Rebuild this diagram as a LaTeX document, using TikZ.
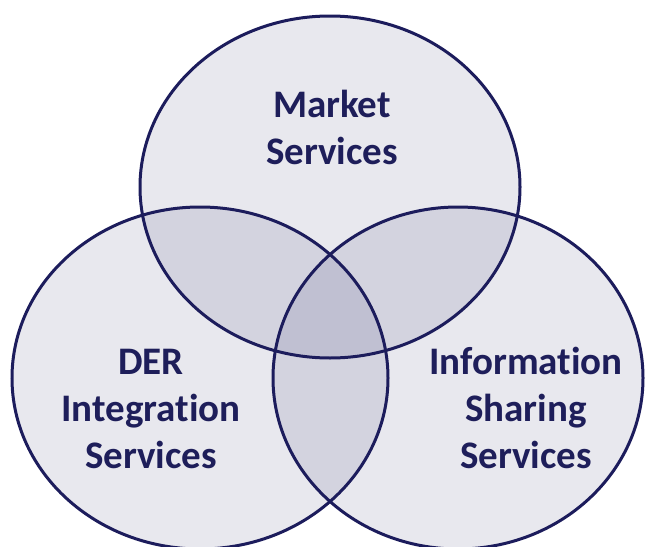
\documentclass[tikz,border=0pt]{standalone}
\usepackage{fontspec}
\setmainfont[Ligatures=NoCommon]{Carlito}
\definecolor{navyline}{RGB}{28,28,92}
\definecolor{navytext}{RGB}{30,30,90}
\definecolor{tint}{RGB}{31,31,96}
\tikzset{
  venn/.style={fill=tint, fill opacity=0.103},
  vennline/.style={draw=navyline, line width=3pt},
  lbl/.style={font=\fontsize{39}{47}\selectfont\bfseries, text=navytext, align=center, inner sep=0pt, anchor=base}
}
\begin{document}
\begin{tikzpicture}[x=1pt,y=-1pt]
\useasboundingbox (0,0) rectangle (645,546);
\fill[white] (0,0) rectangle (645,546);
% fills
\fill[venn] (330,187) ellipse [x radius=190, y radius=171];
\fill[venn] (200,378) ellipse [x radius=188, y radius=171];
\fill[venn] (458,378) ellipse [x radius=185, y radius=171];
% outlines
\draw[vennline] (330,187) ellipse [x radius=190, y radius=171];
\draw[vennline] (200,378) ellipse [x radius=188, y radius=171];
\draw[vennline] (458,378) ellipse [x radius=185, y radius=171];
% labels (anchor = baseline of last line)
\node[lbl] (market) at (332,164) {Market\\Services};
\node[lbl] (der) at (151,468) {DER\\Integration\\Services};
\node[lbl] (info) at (526,468) {Information\\Sharing\\Services};
\end{tikzpicture}
\end{document}
